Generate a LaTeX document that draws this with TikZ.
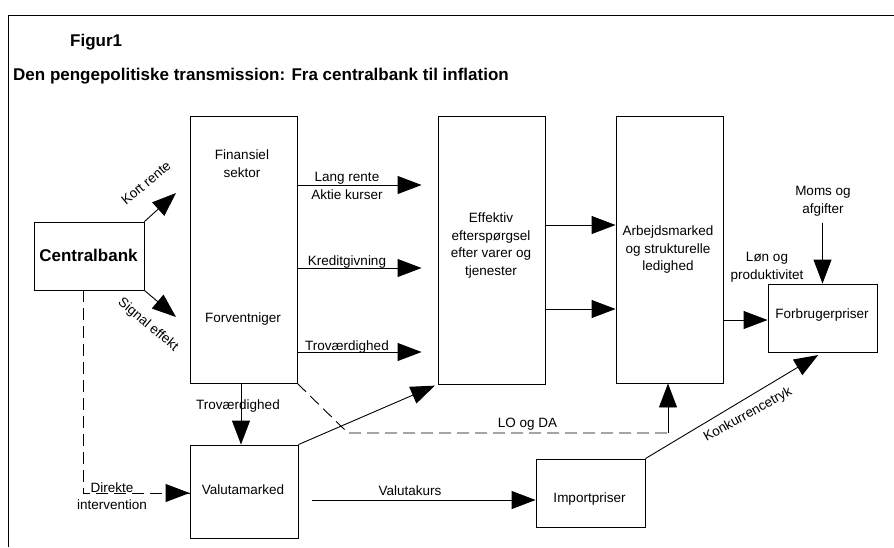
\documentclass[tikz,border=0pt]{standalone}
\usepackage{fontspec}
\setmainfont{Liberation Sans}
\usetikzlibrary{arrows.meta}
\begin{document}
\begin{tikzpicture}[x=1pt,y=-1pt,
  box/.style={draw,line width=0.9pt,inner sep=0},
  txt/.style={font=\fontsize{13.5}{17.5}\selectfont,align=center,inner sep=0},
  btxt/.style={font=\fontsize{17}{20}\selectfont\bfseries,inner sep=0},
  arr/.style={line width=0.9pt,-{Triangle[length=24pt,width=18pt]}},
  ln/.style={line width=0.9pt},
  dsh/.style={line width=0.9pt,dash pattern=on 12pt off 6pt},
]
\useasboundingbox (0,0) rectangle (894,547);
\draw[line width=1pt] (894,15) -- (8,15) -- (8,547);

% titles
\node[btxt,anchor=base west] (fig) at (70,46) {Figur1};
\node[btxt,anchor=base west] (title) at (13,80) {Den pengepolitiske transmission: Fra centralbank til inflation};

% boxes
\node[box,minimum width=110pt,minimum height=68pt] (cb) at (89,256) {};
\node[box,minimum width=107pt,minimum height=267pt] (fin) at (243.5,249.5) {};
\node[box,minimum width=107pt,minimum height=268pt] (eff) at (491.5,250) {};
\node[box,minimum width=107pt,minimum height=267pt] (arb) at (669.5,249.5) {};
\node[box,minimum width=109pt,minimum height=68pt] (forb) at (822.5,318) {};
\node[box,minimum width=108pt,minimum height=93pt] (val) at (244,491.5) {};
\node[box,minimum width=109pt,minimum height=68pt] (imp) at (590.5,493) {};

% box texts
\node[btxt,anchor=base] (cbt) at (88.5,261.5) {Centralbank};
\node[txt] (fint) at (242,163.5) {Finansiel\\sektor};
\node[txt,anchor=base] (fort) at (243,322) {Forventniger};
\node[txt] (efft) at (491,245.5) {Effektiv\\efterspørgsel\\efter varer og\\tjenester};
\node[txt] (arbt) at (668,250) {Arbejdsmarked\\og strukturelle\\ledighed};
\node[txt,anchor=base] (forbt) at (822,318.3) {Forbrugerpriser};
\node[txt,anchor=base] (valt) at (243,494) {Valutamarked};
\node[txt,anchor=base] (impt) at (589.5,502.7) {Importpriser};

% Centralbank outputs
\coordinate (kr) at (176,193);
\coordinate (se) at (176,317);
\draw[arr] (cb.north east) -- (kr);
\draw[arr] (cb.south east) -- (se);
\node[txt,rotate=40] (krl) at (146,183) {Kort rente};
\node[txt,rotate=-40] (sel) at (148,325) {Signal effekt};

% Finansiel sektor to Effektiv
\draw[arr,shorten >=16pt] (fin.east |- 0,185) -- (eff.west |- 0,185);
\draw[arr,shorten >=16pt] (fin.east |- 0,268) -- (eff.west |- 0,268);
\draw[arr,shorten >=16pt] (fin.east |- 0,352) -- (eff.west |- 0,352);
\node[txt,anchor=base] (l1) at (347,181.5) {Lang rente};
\node[txt,anchor=base] (l2) at (347,199) {Aktie kurser};
\node[txt,anchor=base] (l3) at (347,265.5) {Kreditgivning};
\node[txt,anchor=base] (l4) at (347,350.5) {Troværdighed};

% Effektiv to Arbejdsmarked
\draw[arr] (eff.east |- 0,225) -- (arb.west |- 0,225);
\draw[arr] (eff.east |- 0,309) -- (arb.west |- 0,309);

% Arbejdsmarked to Forbrugerpriser
\draw[arr] (arb.east |- 0,320) -- (forb.west |- 0,320);
\node[txt] (lon) at (767,267) {Løn og\\produktivitet};

% Moms
\node[txt] (moms) at (823,201.5) {Moms og\\afgifter};
\draw[arr] (moms.south -| forb.north) ++(0,6) -- (forb.north);

% Troværdighed down
\draw[arr] (fin.south -| 241,0) -- (val.north -| 241,0);
\node[txt,anchor=base] (trov) at (238,409.3) {Troværdighed};

% Direkte intervention
\coordinate (dcorner) at (83,493);
\draw[dsh] (cb.south -| 83,0) -- (dcorner) -- (val.west |- dcorner);
\draw[arr] ([xshift=-2pt]val.west |- dcorner) -- (val.west |- dcorner);
\node[txt] (dir) at (112,496) {Direkte\\intervention};

% LO og DA
\coordinate (lo1) at (348,433);
\coordinate (lo2) at (668,433);
\draw[dsh] (fin.south east) -- (lo1) -- (lo2);
\draw[arr] (lo2) -- (arb.south -| lo2);
\node[txt,anchor=base] (lo) at (527.5,427) {LO og DA};

% Valutamarked to Effektiv
\draw[arr,shorten >=3pt] (val.north east) -- (eff.south west);

% Valutakurs
\draw[arr,shorten <=14pt] (val.east |- 0,500) -- (imp.west |- 0,500);
\node[txt,anchor=base] (vk) at (410,495) {Valutakurs};

% Konkurrencetryk
\draw[arr,shorten >=5pt] (imp.north east) -- (forb.south);
\node[txt,rotate=29] (kk) at (748,415) {Konkurrencetryk};
\end{tikzpicture}
\end{document}
